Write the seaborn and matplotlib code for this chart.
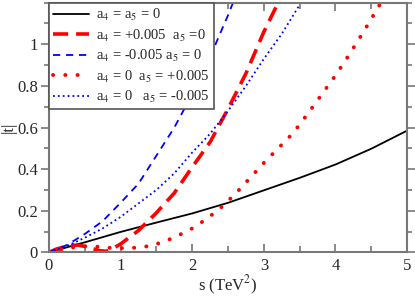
import numpy as np
import pandas as pd
import seaborn as sns
import matplotlib.pyplot as plt
from matplotlib.ticker import MultipleLocator, FixedLocator, FuncFormatter

# data: s (TeV^2) and |t|
s_a = [0, 0.5, 1.0, 1.5, 2.0, 2.5, 3.0, 3.5, 4.0, 4.5, 5.0]
t_a = [0, 0.048, 0.098, 0.143, 0.187, 0.238, 0.298, 0.358, 0.422, 0.498, 0.585]

s_b = [0, 0.1, 0.25, 0.4, 0.55, 0.7, 0.8, 0.9, 1.0, 1.25, 1.5, 1.75, 2.0, 2.25, 2.5, 2.75, 3.0, 3.2]
t_b = [0, 0.015, 0.03, 0.035, 0.025, 0.008, 0.005, 0.02, 0.04, 0.105, 0.19, 0.285, 0.41, 0.53, 0.69, 0.86, 1.06, 1.2]

s_c = [0, 0.25, 0.5, 0.75, 1.0, 1.25, 1.5, 1.75, 2.0, 2.25, 2.5, 2.57]
t_c = [0, 0.035, 0.088, 0.15, 0.238, 0.33, 0.465, 0.6, 0.76, 0.94, 1.14, 1.2]

s_d = [0, 0.2, 0.4, 0.6, 0.8, 1.0, 1.2, 1.4, 1.6, 1.8, 2.0, 2.2, 2.4, 2.6, 2.8,
       3.0, 3.2, 3.4, 3.6, 3.8, 4.0, 4.2, 4.4, 4.6, 4.65]
t_d = [0, 0.015, 0.028, 0.03, 0.022, 0.02, 0.022, 0.03, 0.05, 0.08, 0.115, 0.16, 0.215, 0.28, 0.355,
       0.43, 0.5, 0.57, 0.66, 0.755, 0.85, 0.955, 1.065, 1.18, 1.21]

s_e = [0, 0.25, 0.5, 0.75, 1.0, 1.25, 1.5, 1.75, 2.0, 2.25, 2.5, 2.75, 3.0, 3.25, 3.5]
t_e = [0, 0.03, 0.07, 0.115, 0.17, 0.235, 0.30, 0.38, 0.48, 0.57, 0.68, 0.80, 0.93, 1.05, 1.19]

labels = [r'a$_4$ = a$_5$ = 0',
          r'a$_4$ = +0.005  a$_5$ =0',
          r'a$_4$ = -0.005 a$_5$ = 0',
          r'a$_4$ = 0  a$_5$ = +0.005',
          r'a$_4$ = 0   a$_5$ = -0.005']
y_ticks = [0, 0.2, 0.4, 0.6, 0.8, 1.0]

sns.set_style("ticks")
plt.rcParams['font.family'] = ['Liberation Serif', 'DejaVu Serif']
plt.rcParams['mathtext.fontset'] = 'stix'

fig = plt.figure(figsize=(4.15, 2.96), dpi=100)
ax = fig.add_axes([0.118, 0.1476, 0.863, 0.8433])

sns.lineplot(x=s_a, y=t_a, ax=ax, color='black', linewidth=1.3, label=labels[0])
sns.lineplot(x=s_b, y=t_b, ax=ax, color='red', linewidth=2.6, label=labels[1])
sns.lineplot(x=s_c, y=t_c, ax=ax, color='blue', linewidth=1.3, label=labels[2])
sns.lineplot(x=s_d, y=t_d, ax=ax, color='red', linewidth=2.8, label=labels[3])
sns.lineplot(x=s_e, y=t_e, ax=ax, color='blue', linewidth=1.3, label=labels[4])

styles = [None, (0, (4.2, 2.2)), (0, (4, 3.2)), (0, (0.05, 3.1)), (0, (1, 1.7))]
for line, st in zip(ax.get_lines(), styles):
    if st is not None:
        line.set_linestyle(st)
ax.get_lines()[3].set_dash_capstyle('round')

ax.set_xlim(0, 5)
ax.set_ylim(0, 1.2)
ax.xaxis.set_major_locator(MultipleLocator(1))
ax.xaxis.set_minor_locator(MultipleLocator(0.5))
ax.yaxis.set_major_locator(FixedLocator(y_ticks))
ax.yaxis.set_minor_locator(MultipleLocator(0.1))
ax.yaxis.set_major_formatter(FuncFormatter(lambda v, p: f'{v:g}'))

for sp in ax.spines.values():
    sp.set_color('#777777')
    sp.set_linewidth(1.5)
ax.tick_params(axis='x', which='both', direction='in', top=True, bottom=True,
               color='#777777', labelsize=12, pad=4)
ax.tick_params(axis='x', which='major', length=6, width=1.2)
ax.tick_params(axis='x', which='minor', length=4, width=1.2)
ax.tick_params(axis='y', which='both', direction='out', left=True, right=True,
               color='#777777', labelsize=12, pad=2)
ax.tick_params(axis='y', which='major', length=6, width=1.2)
ax.tick_params(axis='y', which='minor', length=3.5, width=1.2)

ax.set_xlabel(r's (TeV$^2$)', fontsize=12, labelpad=0)
ax.set_ylabel('|t|', fontsize=12)
ax.yaxis.set_label_coords(-0.09, 0.5)

leg = ax.legend(loc='upper left', bbox_to_anchor=(0, 1), borderaxespad=0,
                fontsize=10.5, frameon=True, fancybox=False, framealpha=1,
                handlelength=2.45, handletextpad=0.5, labelspacing=0.3,
                borderpad=0.3)
leg.get_frame().set_edgecolor('#555555')
leg.get_frame().set_linewidth(1.2)

plt.savefig('out.png', dpi=100)
